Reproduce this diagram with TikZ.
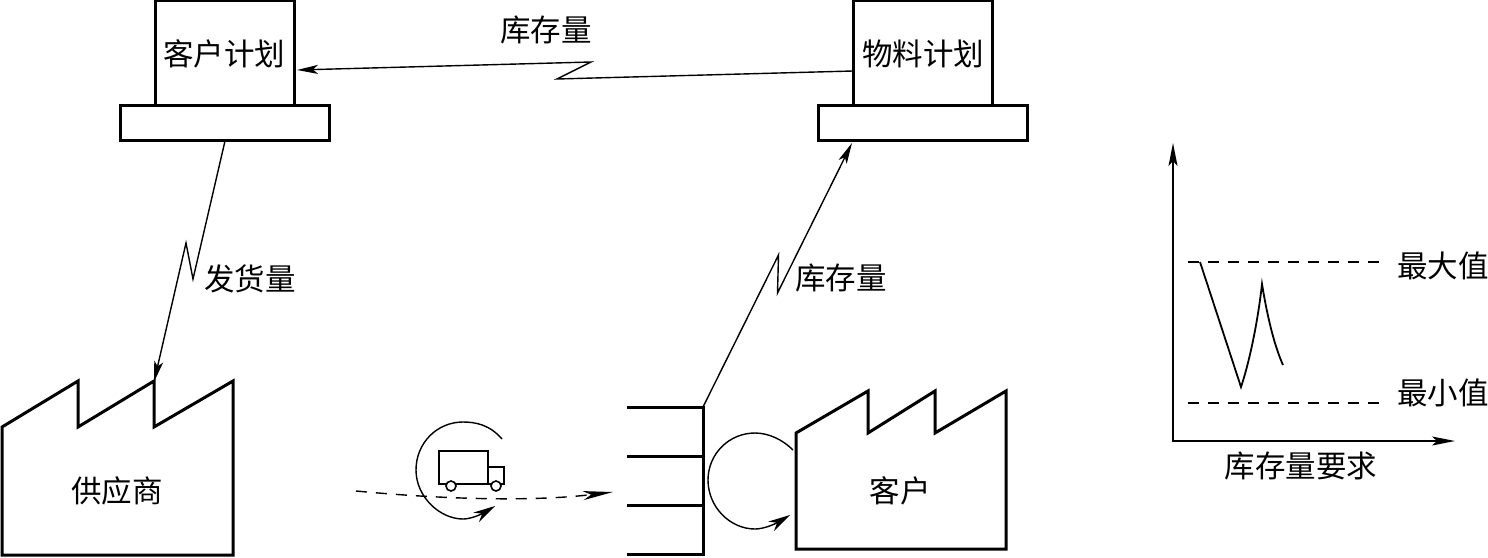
\documentclass[tikz,border=0pt]{standalone}
\usepackage{fontspec}
\setmainfont{Noto Sans CJK SC}
\usetikzlibrary{arrows.meta}
\tikzset{
  x=1pt,y=-1pt,
  thickline/.style={line width=3pt,line join=miter},
  thinline/.style={line width=1.4pt},
  arrowline/.style={thinline,-{Stealth[length=21pt,width=9pt,inset=5pt]}},
  dashline/.style={line width=1.4pt,dash pattern=on 11pt off 9pt},
  boxtop/.style={draw,line width=3pt,inner sep=0pt,outer sep=0pt,minimum width=139pt,minimum height=105pt},
  boxbase/.style={draw,line width=3pt,inner sep=0pt,outer sep=0pt,minimum width=209pt,minimum height=35pt},
  lbl/.style={inner sep=0pt,font=\fontsize{30.5}{30.5}\selectfont},
  curvetip/.style={thinline,-{Stealth[length=22pt,width=11pt,inset=7pt]}},
  wheel/.style={circle,draw,line width=1.6pt,fill=white,minimum size=10pt,inner sep=0pt},
}
\begin{document}
\begin{tikzpicture}
\useasboundingbox (0,0) rectangle (1488,557);
\fill[white] (0,0) rectangle (1488,557);
% planning stations
\node[boxtop] (cplan) at (225,52.5) {};
\node[boxbase] (cbase) at (225,122.5) {};
\node[boxtop] (mplan) at (922.5,52.5) {};
\node[boxbase] (mbase) at (922.5,122.5) {};
\node[lbl] (cplanT) at (224,54) {客户计划};
\node[lbl] (mplanT) at (923,54) {物料计划};
% factories
\draw[thickline] (2,427)--(78,381)--(78,427)--(154,381)--(154,427)--(233,381)--(233,555)--(2,555)--cycle;
\draw[thickline] (796,433)--(868,391)--(868,433)--(935,391)--(935,433)--(1006,391)--(1006,549)--(796,549)--cycle;
\node[lbl] (sup) at (117,491) {供应商};
\node[lbl] (cus) at (900,491) {客户};
% dock
\coordinate (d1) at (703,407);
\coordinate (d4) at (703,554);
\draw[thickline] (627,407)--(d1)--(d4)--(627,554);
\draw[thickline] (627,456)--(703,456);
\draw[thickline] (627,505)--(703,505);
% information links
\coordinate (mleft) at (853,71);
\coordinate (cright) at (297,70);
\draw[arrowline] (mleft)--(557,79)--(591,62)--(cright);
\coordinate (cb) at (225,141);
\coordinate (sroof) at (154,382);
\draw[arrowline] (cb)--(193,279)--(186,243)--(sroof);
\coordinate (mb) at (852,143);
\draw[arrowline] (d1)--(778.5,255)--(777.5,293)--(mb);
\node[lbl] (t1) at (546,30) {库存量};
\node[lbl] (t2) at (250,279) {发货量};
\node[lbl] (t3) at (841,278) {库存量};
% truck
\draw[line width=1.6pt] (439,484)--(439,451)--(488,451)--(488,484)--cycle;
\draw[line width=1.6pt] (488,467)--(504,467)--(504,484)--(488,484);
\node[wheel] (w1) at (451,486) {};
\node[wheel] (w2) at (496,486) {};
% flows
\coordinate (fa) at (356,491);
\coordinate (fb) at (613,492);
\draw[dashline,-{Stealth[length=30pt,width=9pt,inset=8pt]}] (fa)..controls (440,499) and (530,502)..(fb);
\coordinate (r1a) at (502,439);
\coordinate (r1b) at (495,506);
\draw[curvetip] (r1a)..controls (490,425) and (476,422)..(463,422)
 ..controls (437,422) and (416,443)..(416,470)
 ..controls (416,497) and (440,519)..(463,519)
 ..controls (470,519) and (480,515)..(r1b);
\coordinate (r2a) at (793,450);
\coordinate (r2b) at (790,515);
\draw[curvetip] (r2a)..controls (783,440) and (769,433)..(755,433)
 ..controls (729,433) and (708,454)..(708,480)
 ..controls (708,507) and (730,529)..(755,529)
 ..controls (764,529) and (775,524)..(r2b);
% chart
\coordinate (o) at (1173,441);
\coordinate (ya) at (1173,143);
\coordinate (xa) at (1455,441);
\draw[line width=1.4pt,{Stealth[length=23pt,width=9pt,inset=5pt]}-{Stealth[length=23pt,width=9pt,inset=5pt]}] (ya)--(o)--(xa);
\coordinate (ma) at (1188,262);
\coordinate (mi) at (1188,403);
\draw[dashline] (ma)--(1384,262);
\draw[dashline] (mi)--(1384,403);
\draw[line width=1.8pt,line join=miter] (1200,262)--(1241,387)..controls (1250,360) and (1258,320)..(1262,284)..controls (1267,315) and (1274,345)..(1283,365);
\node[lbl] (v1) at (1443,266) {最大值};
\node[lbl] (v2) at (1443,393) {最小值};
\node[lbl] (v3) at (1301,466) {库存量要求};
\end{tikzpicture}
\end{document}
